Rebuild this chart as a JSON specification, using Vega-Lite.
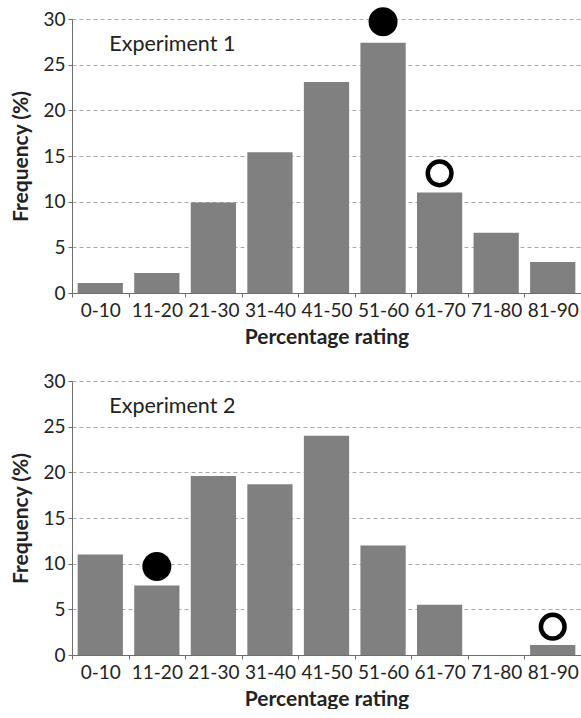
{
  "$schema": "https://vega.github.io/schema/vega-lite/v6.json",
  "padding": {"left": 10, "top": 7, "right": 0, "bottom": 0},
  "spacing": 25,
  "config": {
    "view": {"stroke": null},
    "font": "Lato",
    "axis": {
      "domainColor": "#6e6e6e",
      "tickColor": "#6e6e6e",
      "labelColor": "#222222",
      "titleColor": "#222222",
      "labelFontSize": 19,
      "titleFontSize": 21,
      "titleFontWeight": "bold",
      "labelFont": "Lato",
      "titleFont": "Lato"
    }
  },
  "datasets": {
    "exp1": [
      {"range": "0-10", "freq": 1.1},
      {"range": "11-20", "freq": 2.2},
      {"range": "21-30", "freq": 9.9},
      {"range": "31-40", "freq": 15.4},
      {"range": "41-50", "freq": 23.1},
      {"range": "51-60", "freq": 27.4},
      {"range": "61-70", "freq": 11.0},
      {"range": "71-80", "freq": 6.6},
      {"range": "81-90", "freq": 3.4}
    ],
    "exp2": [
      {"range": "0-10", "freq": 11.0},
      {"range": "11-20", "freq": 7.6},
      {"range": "21-30", "freq": 19.6},
      {"range": "31-40", "freq": 18.7},
      {"range": "41-50", "freq": 24.0},
      {"range": "51-60", "freq": 12.0},
      {"range": "61-70", "freq": 5.5},
      {"range": "71-80", "freq": 0},
      {"range": "81-90", "freq": 1.1}
    ],
    "markers1": [
      {"range": "51-60", "freq": 29.7, "kind": "filled"},
      {"range": "61-70", "freq": 13.1, "kind": "open"}
    ],
    "markers2": [
      {"range": "11-20", "freq": 9.7, "kind": "filled"},
      {"range": "81-90", "freq": 3.1, "kind": "open"}
    ],
    "label1": [{"range": "0-10", "freq": 27.2, "label": "Experiment 1"}],
    "label2": [{"range": "0-10", "freq": 27.2, "label": "Experiment 2"}]
  },
  "vconcat": [
    {
      "width": 509,
      "height": 274,
      "encoding": {
        "x": {
          "field": "range",
          "type": "nominal",
          "sort": null,
          "scale": {"domain": ["0-10","11-20","21-30","31-40","41-50","51-60","61-70","71-80","81-90"], "paddingInner": 0.2, "paddingOuter": 0.1},
          "axis": {"title": "Percentage rating", "labelAngle": 0, "tickSize": 4, "tickOffset": -28.28, "labelOffset": 28.28, "labelPadding": 4, "titlePadding": 6}
        },
        "y": {
          "field": "freq",
          "type": "quantitative",
          "scale": {"domain": [0, 30], "nice": false},
          "axis": {"title": "Frequency (%)", "values": [0,5,10,15,20,25,30], "tickSize": 4, "labelPadding": 3, "titlePadding": 11, "grid": true, "gridDash": [4, 3], "gridColor": "#a8a8a8"}
        }
      },
      "layer": [
        {"data": {"name": "exp1"}, "mark": {"type": "bar", "color": "#808080"}},
        {"data": {"name": "markers1"}, "transform": [{"filter": "datum.kind === 'filled'"}], "mark": {"type": "point", "shape": "circle", "filled": true, "color": "#000000", "size": 840, "opacity": 1}},
        {"data": {"name": "markers1"}, "transform": [{"filter": "datum.kind === 'open'"}], "mark": {"type": "point", "shape": "circle", "filled": false, "color": "#000000", "size": 560, "strokeWidth": 4.5, "opacity": 1}},
        {"data": {"name": "label1"}, "mark": {"type": "text", "align": "left", "baseline": "middle", "dx": 9, "fontSize": 21.5, "color": "#222222"}, "encoding": {"text": {"field": "label"}}}
      ]
    },
    {
      "width": 509,
      "height": 274,
      "encoding": {
        "x": {
          "field": "range",
          "type": "nominal",
          "sort": null,
          "scale": {"domain": ["0-10","11-20","21-30","31-40","41-50","51-60","61-70","71-80","81-90"], "paddingInner": 0.2, "paddingOuter": 0.1},
          "axis": {"title": "Percentage rating", "labelAngle": 0, "tickSize": 4, "tickOffset": -28.28, "labelOffset": 28.28, "labelPadding": 4, "titlePadding": 6}
        },
        "y": {
          "field": "freq",
          "type": "quantitative",
          "scale": {"domain": [0, 30], "nice": false},
          "axis": {"title": "Frequency (%)", "values": [0,5,10,15,20,25,30], "tickSize": 4, "labelPadding": 3, "titlePadding": 11, "grid": true, "gridDash": [4, 3], "gridColor": "#a8a8a8"}
        }
      },
      "layer": [
        {"data": {"name": "exp2"}, "mark": {"type": "bar", "color": "#808080"}},
        {"data": {"name": "markers2"}, "transform": [{"filter": "datum.kind === 'filled'"}], "mark": {"type": "point", "shape": "circle", "filled": true, "color": "#000000", "size": 840, "opacity": 1}},
        {"data": {"name": "markers2"}, "transform": [{"filter": "datum.kind === 'open'"}], "mark": {"type": "point", "shape": "circle", "filled": false, "color": "#000000", "size": 560, "strokeWidth": 4.5, "opacity": 1}},
        {"data": {"name": "label2"}, "mark": {"type": "text", "align": "left", "baseline": "middle", "dx": 9, "fontSize": 21.5, "color": "#222222"}, "encoding": {"text": {"field": "label"}}}
      ]
    }
  ]
}
